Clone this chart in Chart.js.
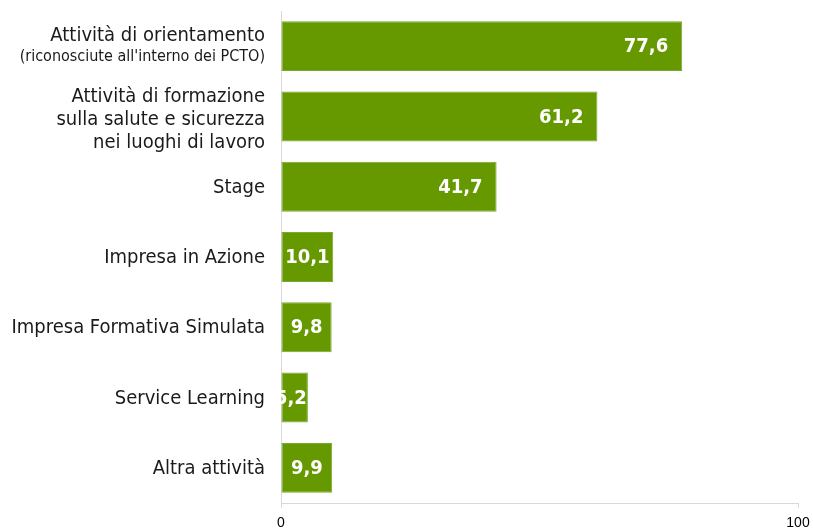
<!DOCTYPE html>
<html>
<head>
<meta charset="utf-8">
<script src="https://cdn.jsdelivr.net/npm/chart.js@4"></script>
<style>
  html, body { margin: 0; padding: 0; background: #fff; }
  #wrap { width: 813px; height: 528px; position: relative; }
</style>
</head>
<body>
<div id="wrap"><canvas id="c" width="813" height="528"></canvas></div>
<script>
const categories = [
  ["Attività di orientamento", "(riconosciute all'interno dei PCTO)"],
  ["Attività di formazione", "sulla salute e sicurezza", "nei luoghi di lavoro"],
  ["Stage"],
  ["Impresa in Azione"],
  ["Impresa Formativa Simulata"],
  ["Service Learning"],
  ["Altra attività"]
];
const values = [77.6, 61.2, 41.7, 10.1, 9.8, 5.2, 9.9];
const axisMin = 0;
const axisMax = 100;

const CAT_FONT = '20px "DejaVu Sans Condensed", "DejaVu Sans", sans-serif';
const NOTE_FONT = '16px "DejaVu Sans Condensed", "DejaVu Sans", sans-serif';
const VAL_FONT = 'bold 20px "DejaVu Sans Condensed", "DejaVu Sans", sans-serif';

function fmt(v) { return v.toFixed(1).replace('.', ','); }

const labelPlugin = {
  id: 'customLabels',
  afterDatasetsDraw(chart) {
    const ctx = chart.ctx;
    const yScale = chart.scales.y;
    const area = chart.chartArea;
    const meta = chart.getDatasetMeta(0);
    ctx.save();
    ctx.beginPath();
    ctx.rect(area.left, area.top, area.right - area.left, area.bottom - area.top);
    ctx.clip();
    ctx.font = VAL_FONT;
    ctx.fillStyle = '#ffffff';
    ctx.textBaseline = 'middle';
    ctx.textAlign = 'right';
    meta.data.forEach((bar, i) => {
      const txt = fmt(values[i]);
      const w = ctx.measureText(txt).width;
      const bw = bar.x - bar.base;
      const pad = Math.min(14, Math.max(1, (bw - w) / 2));
      ctx.fillText(txt, bar.x - pad, bar.y + 1);
    });
    ctx.restore();

    ctx.save();
    ctx.fillStyle = '#1a1a1a';
    ctx.textAlign = 'right';
    ctx.textBaseline = 'middle';
    const xRight = area.left - 16;
    categories.forEach((lines, i) => {
      const cy = yScale.getPixelForValue(i);
      const hs = lines.map(l => l.startsWith('(') ? 19 : 23);
      const total = hs.reduce((a, b) => a + b, 0);
      const shift = lines.length === 3 ? 3 : (lines.length === 2 ? -1 : 1);
      let y = cy - total / 2 + shift;
      lines.forEach((l, j) => {
        ctx.font = l.startsWith('(') ? NOTE_FONT : CAT_FONT;
        ctx.fillText(l, xRight, y + hs[j] / 2);
        y += hs[j];
      });
    });
    ctx.restore();
  }
};

new Chart(document.getElementById('c'), {
  type: 'bar',
  data: {
    labels: categories,
    datasets: [{
      data: values,
      backgroundColor: '#669900',
      borderColor: '#7aa832',
      borderWidth: 1,
      borderSkipped: false,
      categoryPercentage: 1,
      barPercentage: 0.71
    }]
  },
  options: {
    indexAxis: 'y',
    responsive: false,
    animation: false,
    devicePixelRatio: 1,
    layout: { padding: { top: 11, right: 0, bottom: 0, left: 0 } },
    plugins: { legend: { display: false }, tooltip: { enabled: false } },
    scales: {
      x: {
        min: axisMin, max: axisMax,
        ticks: {
          stepSize: 100,
          color: '#000',
          padding: 7,
          maxRotation: 0,
          font: { family: '"Liberation Sans", Arial, sans-serif', size: 14 }
        },
        grid: { drawOnChartArea: false, drawTicks: true, tickLength: 5, color: '#d9d9d9' },
        border: { display: true, color: '#d9d9d9', width: 1 },
        afterFit(scale) { scale.height = 25; scale.paddingRight = 15; scale.paddingLeft = 0; }
      },
      y: {
        ticks: { display: false },
        grid: { display: false, drawTicks: false },
        border: { display: true, color: '#d9d9d9', width: 1 },
        afterFit(scale) { scale.width = 281; }
      }
    }
  },
  plugins: [labelPlugin]
});
</script>
</body>
</html>
